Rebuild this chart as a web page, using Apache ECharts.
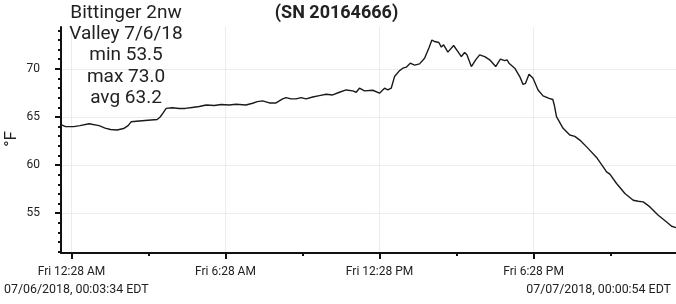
<!DOCTYPE html>
<html>
<head>
<meta charset="utf-8">
<script src="https://cdn.jsdelivr.net/npm/echarts@6/dist/echarts.min.js"></script>
<style>html,body{margin:0;padding:0;background:#fff;}#c{width:676px;height:304px;}</style>
</head>
<body>
<div id="c"></div>
<script>
// Time in minutes after 07/06/2018 00:00 EDT
var minutes = [3.567,14.1,33.3,48.0,69.1,92.5,106.6,119.4,134.7,149.9,160.4,167.4,186.2,214.2,228.3,235.3,242.3,249.3,263.4,279.8,293.8,310.2,326.6,343.0,361.7,378.1,396.8,412.5,435.9,451.4,462.4,474.8,490.5,506.1,521.6,529.5,541.2,552.9,564.7,576.4,591.8,607.5,623.2,638.6,654.3,670.0,685.4,693.4,701.1,712.8,732.3,747.9,759.7,767.4,775.3,783.1,794.8,802.5,810.5,819.8,829.9,841.6,853.3,863.4,870.4,876.7,880.7,886.7,892.4,897.8,907.8,921.2,931.2,939.2,946.9,952.3,962.6,972.7,982.0,993.8,1005.5,1019.5,1030.5,1040.5,1045.9,1050.6,1053.9,1064.0,1075.7,1083.4,1089.0,1097.4,1106.8,1118.5,1130.2,1144.3,1153.0,1156.4,1161.6,1177.0,1192.7,1204.4,1216.1,1235.5,1255.2,1270.7,1278.6,1286.3,1302.0,1321.5,1340.9,1352.6,1364.3,1380.0,1399.4,1419.0,1430.7,1440.9];
var temps = [64.2,64.0,64.0,64.1,64.3,64.1,63.85,63.7,63.65,63.8,64.1,64.5,64.58,64.69,64.74,65.0,65.42,65.89,65.96,65.89,65.89,65.99,66.09,66.25,66.2,66.3,66.25,66.32,66.25,66.43,66.6,66.67,66.46,66.46,66.88,67.01,66.88,66.88,67.01,66.88,67.08,67.22,67.36,67.29,67.57,67.81,67.71,67.57,67.99,67.71,67.78,67.47,67.99,67.81,67.99,69.2,69.82,70.07,70.18,70.59,70.39,70.52,71.11,72.16,73.0,72.84,72.68,72.74,72.26,72.5,71.74,72.43,71.8,71.28,71.7,71.46,70.24,70.94,71.46,71.28,70.94,70.24,71.01,70.86,70.94,70.59,70.76,70.07,69.2,68.39,68.49,69.45,69.03,67.81,67.19,66.93,66.82,66.25,65.03,63.82,63.13,62.99,62.6,61.74,60.8,59.82,59.3,59.06,58.09,57.05,56.35,56.25,56.18,55.66,54.79,54.09,53.65,53.5];

var xMajorTicks = [28, 388, 748, 1108];
var xMinorTicks = [208, 568, 928, 1288];
var xTickLabels = ['Fri 12:28 AM', 'Fri 6:28 AM', 'Fri 12:28 PM', 'Fri 6:28 PM'];
var yMajorTicks = [55, 60, 65, 70];
var yMinorTicks = [51,52,53,54,56,57,58,59,61,62,63,64,66,67,68,69,71,72,73,74];
var infoLines = ['Bittinger 2nw', 'Valley 7/6/18', 'min 53.5', 'max 73.0', 'avg 63.2'];
var titleText = '(SN 20164666)';
var yAxisName = '°F';
var startLabel = '07/06/2018, 00:03:34 EDT';
var endLabel = '07/07/2018, 00:00:54 EDT';
var xMin = 3.567, xMax = 1440.9, yMin = 50.87, yMax = 74.35;

var FONT = 'Roboto';
var points = minutes.map(function (m, i) { return [m, temps[i]]; });
var chart = echarts.init(document.getElementById('c'), null, {renderer: 'canvas'});
var axisLineStyle = {color: '#111', width: 2};
chart.setOption({
  animation: false,
  backgroundColor: '#fff',
  grid: {left: 61, right: 0, top: 27, bottom: 51, containLabel: false},
  xAxis: [{
    type: 'value', position: 'bottom', min: xMin, max: xMax,
    axisLine: {show: true, onZero: false, lineStyle: axisLineStyle},
    axisTick: {show: true, customValues: xMajorTicks, length: 6, lineStyle: axisLineStyle},
    axisLabel: {customValues: xMajorTicks, fontSize: 12, fontFamily: FONT, color: '#222', margin: 13,
      formatter: function (v) { var i = xMajorTicks.indexOf(v); return i >= 0 ? xTickLabels[i] : ''; }},
    splitLine: {show: true, lineStyle: {color: '#ececec', width: 1}}
  }, {
    type: 'value', position: 'bottom', min: xMin, max: xMax,
    axisLine: {show: false, onZero: false},
    axisTick: {show: true, customValues: xMinorTicks, length: 3, lineStyle: axisLineStyle},
    axisLabel: {show: false},
    splitLine: {show: false}
  }],
  yAxis: [{
    type: 'value', position: 'left', min: yMin, max: yMax,
    axisLine: {show: true, onZero: false, lineStyle: axisLineStyle},
    axisTick: {show: true, customValues: yMajorTicks, length: 6, lineStyle: axisLineStyle},
    axisLabel: {customValues: yMajorTicks, fontSize: 12, fontFamily: FONT, color: '#222', margin: 21},
    splitLine: {show: true, lineStyle: {color: '#ececec', width: 1}}
  }, {
    type: 'value', position: 'left', min: yMin, max: yMax,
    axisLine: {show: false, onZero: false},
    axisTick: {show: true, customValues: yMinorTicks, length: 3, lineStyle: axisLineStyle},
    axisLabel: {show: false},
    splitLine: {show: false}
  }],
  series: [{
    type: 'line', xAxisIndex: 0, yAxisIndex: 0, data: points,
    showSymbol: false, symbol: 'none', smooth: false,
    lineStyle: {color: '#1a1a1a', width: 1.4}
  }],
  graphic: [
    {type: 'text', x: 126, y: 2.3, z: 100,
      style: {text: infoLines.join('\n'), textAlign: 'center', textVerticalAlign: 'top',
        font: '19px ' + FONT, lineHeight: 21.3, fill: '#222'}},
    {type: 'text', x: 336.5, y: 13, z: 100,
      style: {text: titleText, textAlign: 'center', textVerticalAlign: 'middle',
        font: 'bold 18px ' + FONT, fill: '#222'}},
    {type: 'text', x: 11.5, y: 139, rotation: Math.PI / 2, z: 100,
      style: {text: yAxisName, textAlign: 'center', textVerticalAlign: 'middle',
        font: '17px ' + FONT, fill: '#222'}},
    {type: 'text', x: 4, y: 290, z: 100,
      style: {text: startLabel, textAlign: 'left', textVerticalAlign: 'middle',
        font: '12.4px ' + FONT, fill: '#222'}},
    {type: 'text', x: 671, y: 290, z: 100,
      style: {text: endLabel, textAlign: 'right', textVerticalAlign: 'middle',
        font: '12.4px ' + FONT, fill: '#222'}}
  ]
});
</script>
</body>
</html>
